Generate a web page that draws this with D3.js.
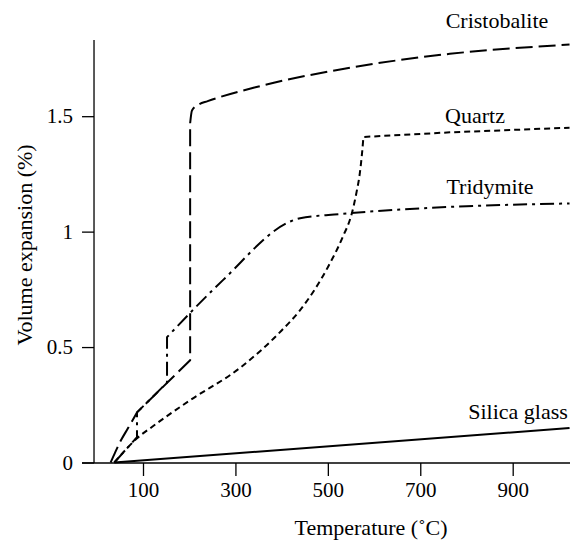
<!DOCTYPE html>
<html>
<head>
<meta charset="utf-8">
<script src="https://cdn.jsdelivr.net/npm/d3@7"></script>
<style>
  html, body { margin: 0; padding: 0; background: #fff; }
  svg { display: block; }
  text { font-family: "Liberation Serif", "Times New Roman", serif; fill: #000; }
</style>
</head>
<body>
<svg id="chart" width="570" height="542"></svg>
<script>
// ---- Data (temperature in °C, volume expansion in %) ----
const xTicks = [100, 300, 500, 700, 900];
const yTicks = [0, 0.5, 1, 1.5];
const yTickLabels = ["0", "0.5", "1", "1.5"];

// Each series: list of pieces; each piece is [curveType, points]
const cristobalite = [
  ["smooth", [[30, 0], [40, 0.045], [52, 0.095], [68, 0.15], [87, 0.217]]],
  ["linear", [[87, 0.217], [202, 0.443], [202, 1.47]]],
  ["smooth", [[202, 1.47], [206, 1.525], [220, 1.55], [240, 1.565], [353, 1.63], [548, 1.71], [764, 1.77], [1023, 1.81]]]
];
const quartz = [
  ["smooth", [[38, 0], [60, 0.05], [87, 0.105], [120, 0.155], [202, 0.27], [310, 0.41], [400, 0.572], [440, 0.66], [500, 0.846], [532, 0.976], [552, 1.08], [562, 1.17], [569, 1.25], [574, 1.34], [577, 1.41]]],
  ["linear", [[577, 1.41], [764, 1.43], [1023, 1.45]]]
];
const tridymite = [
  ["linear", [[38, 0], [87, 0.11], [87, 0.217], [152, 0.346], [152, 0.543]]],
  ["smooth", [[152, 0.543], [273, 0.79], [420, 1.045], [440, 1.058], [526, 1.076], [650, 1.095], [800, 1.11], [1023, 1.122]]]
];
const silicaGlass = [
  ["linear", [[38, 0], [1023, 0.149]]]
];

const seriesNames = ["Cristobalite", "Quartz", "Tridymite", "Silica glass"];
const seriesData = [cristobalite, quartz, tridymite, silicaGlass];
const seriesDash = ["17,6", "6,4", "14,5,3,5", null];
const labelPos = [[497, 28], [475, 123], [490, 194], [518, 419]];

// ---- Scales ----
const svg = d3.select("#chart");
const x = d3.scaleLinear().domain([-32, 1024]).range([82, 570]);
const y = d3.scaleLinear().domain([0, 1.83]).range([462.5, 40]);

const x0 = x(-6);     // y-axis position
const yAxisY = 463;   // x-axis position

// ---- Axes ----
const gx = svg.append("g").attr("transform", `translate(0,${yAxisY})`)
  .call(d3.axisBottom(x).tickValues(xTicks).tickSize(13).tickPadding(6).tickFormat(d3.format("d")));
gx.select(".domain").remove();
gx.attr("font-family", "Liberation Serif");
gx.selectAll(".tick line").attr("stroke", "#000").attr("stroke-width", 1.3);
gx.selectAll(".tick text").attr("font-size", 21);

const gy = svg.append("g").attr("transform", `translate(${x0},0)`)
  .call(d3.axisLeft(y).tickValues(yTicks).tickSize(12).tickPadding(9)
    .tickFormat((d, i) => yTickLabels[i]));
gy.select(".domain").remove();
gy.attr("font-family", "Liberation Serif");
gy.selectAll(".tick line").attr("stroke", "#000").attr("stroke-width", 1.3);
gy.selectAll(".tick text").attr("font-size", 21);

svg.append("line").attr("x1", x(-32)).attr("x2", 570).attr("y1", yAxisY).attr("y2", yAxisY)
  .attr("stroke", "#000").attr("stroke-width", 1.3);
svg.append("line").attr("x1", x0).attr("x2", x0).attr("y1", y(1.83)).attr("y2", yAxisY)
  .attr("stroke", "#000").attr("stroke-width", 1.3);

// ---- Curves ----
const lineLinear = d3.line().x(d => x(d[0])).y(d => y(d[1])).curve(d3.curveLinear);
const lineSmooth = d3.line().x(d => x(d[0])).y(d => y(d[1])).curve(d3.curveMonotoneX);

function buildPath(pieces) {
  return pieces.map((p, i) => {
    const s = (p[0] === "smooth" ? lineSmooth : lineLinear)(p[1]);
    return i === 0 ? s : "L" + s.slice(1);
  }).join("");
}

seriesData.forEach((pieces, i) => {
  const path = svg.append("path")
    .attr("d", buildPath(pieces))
    .attr("fill", "none")
    .attr("stroke", "#000")
    .attr("stroke-width", 2)
    .attr("stroke-linejoin", "round");
  if (seriesDash[i]) path.attr("stroke-dasharray", seriesDash[i]);
});

// ---- Curve labels ----
seriesNames.forEach((name, i) => {
  svg.append("text")
    .attr("x", labelPos[i][0]).attr("y", labelPos[i][1])
    .attr("text-anchor", "middle")
    .attr("font-size", 22)
    .text(name);
});

// ---- Axis titles ----
svg.append("text")
  .attr("x", 371).attr("y", 535)
  .attr("text-anchor", "middle")
  .attr("font-size", 22)
  .text("Temperature (˚C)");

svg.append("text")
  .attr("transform", "translate(32,245) rotate(-90)")
  .attr("text-anchor", "middle")
  .attr("font-size", 22)
  .text("Volume expansion (%)");
</script>
</body>
</html>
